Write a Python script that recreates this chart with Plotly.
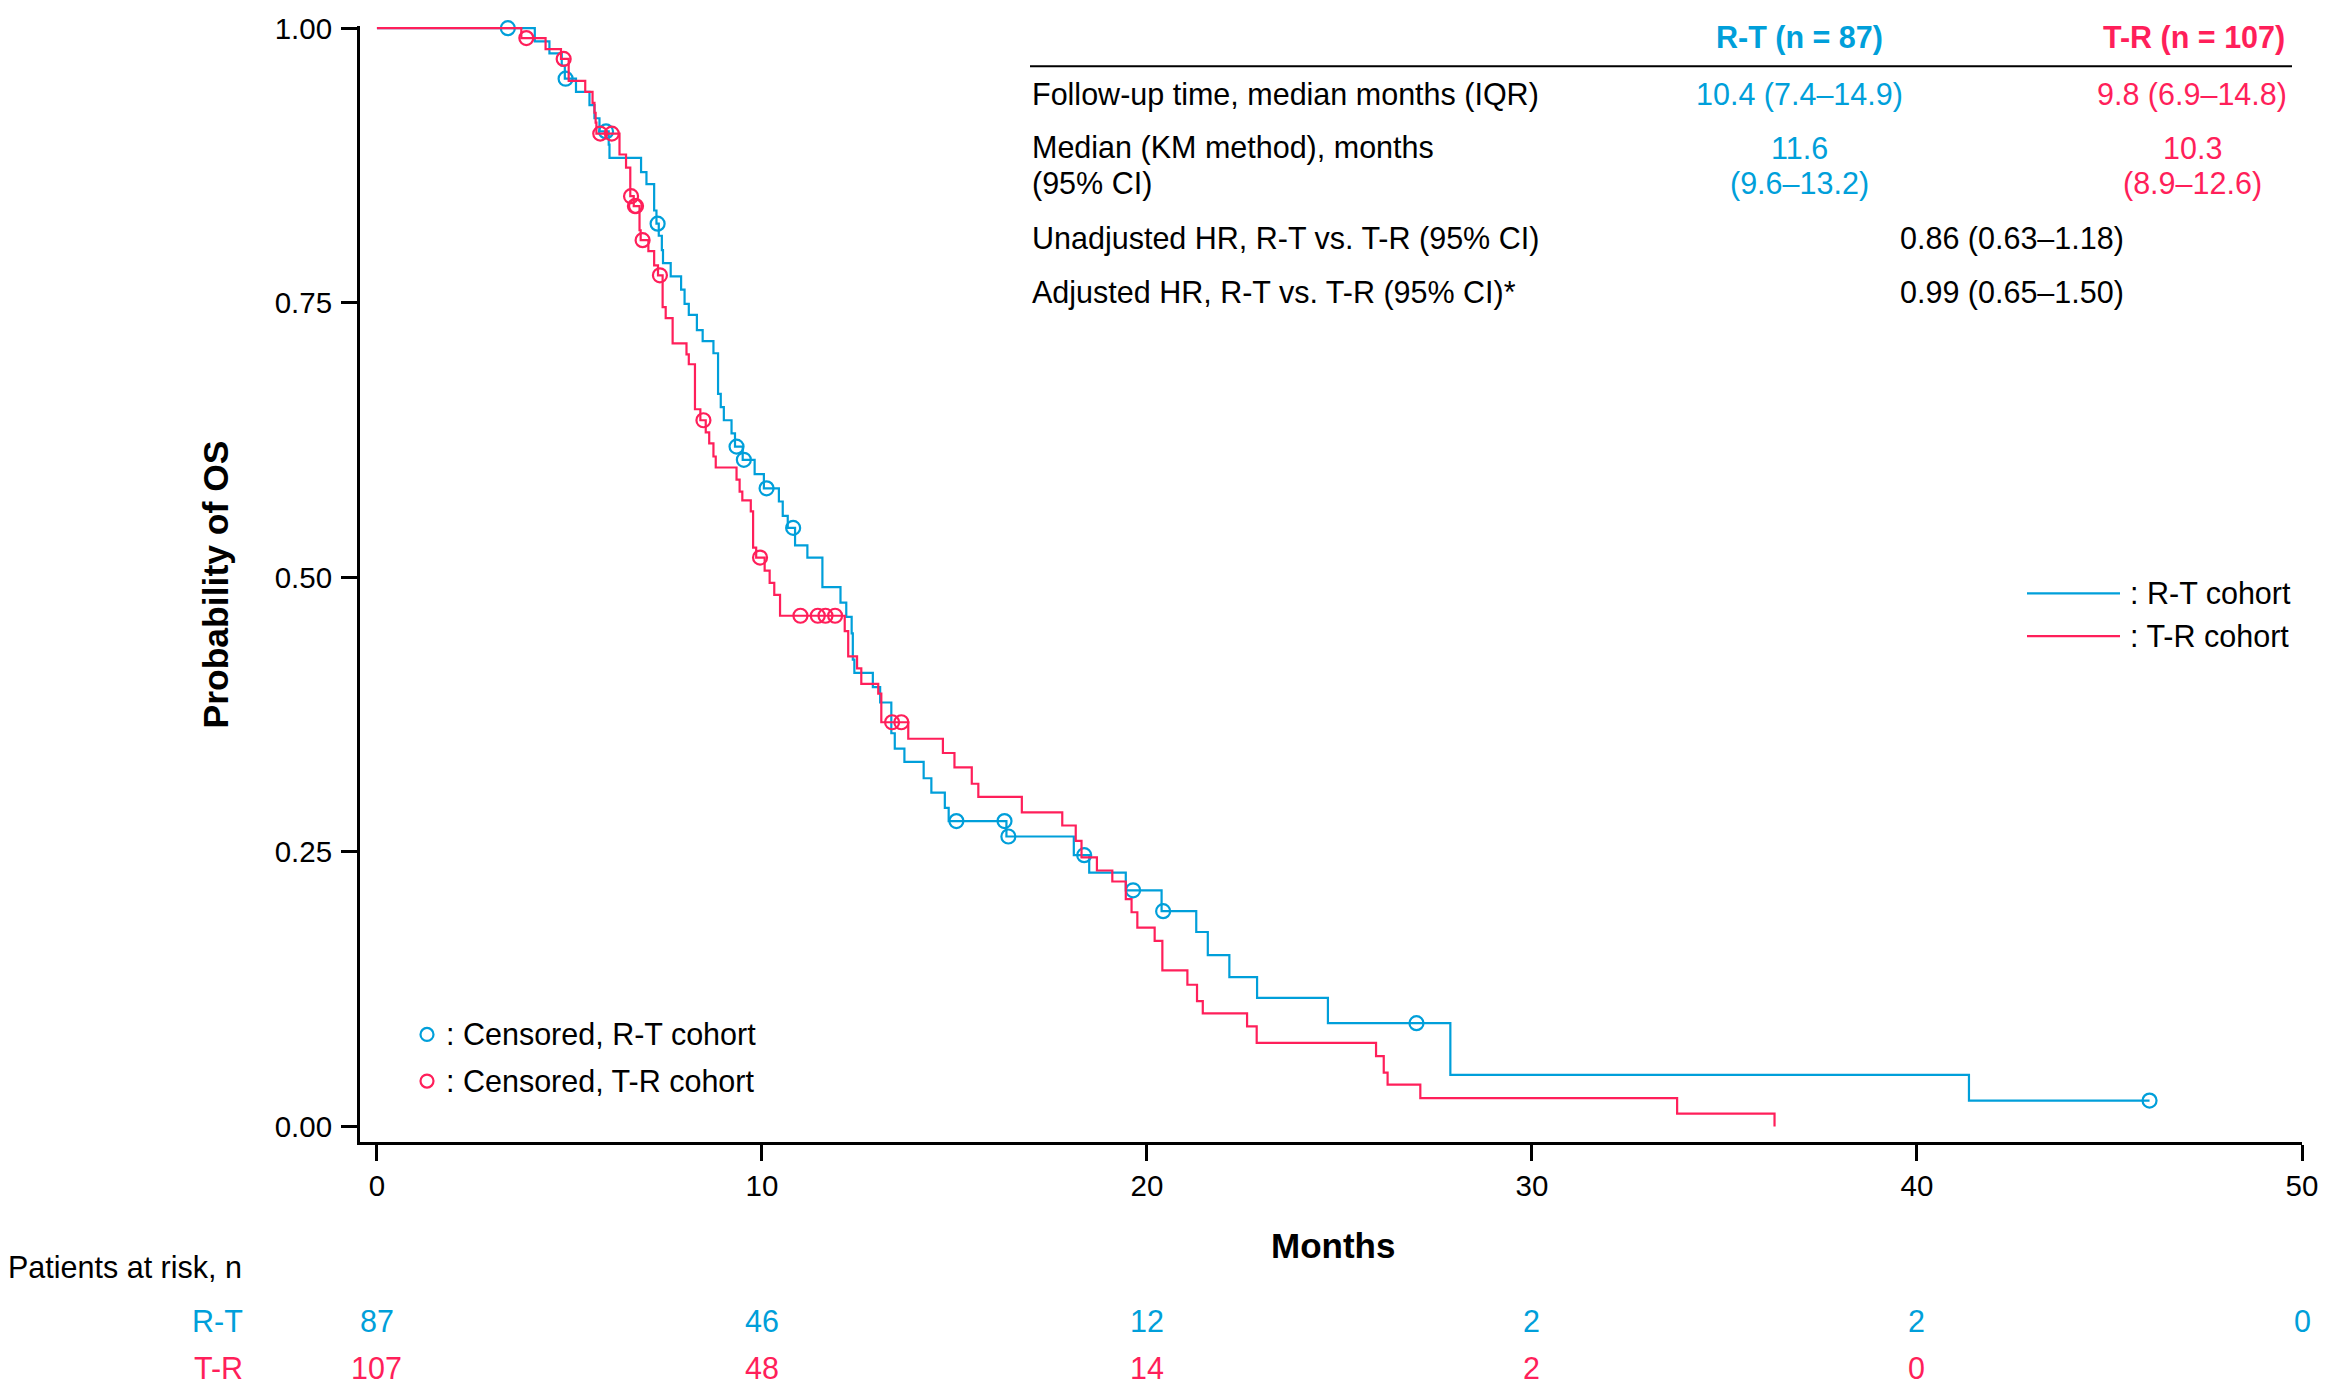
import numpy as np
import plotly.graph_objects as go

# ---------------- data ----------------
rt_event_time = [4.1, 4.48, 4.8, 4.88, 5.17, 5.52, 5.65, 5.78, 6.02, 6.04, 6.86, 7.0, 7.2, 7.26,
                 7.32, 7.4, 7.43, 7.63, 7.9, 7.99, 8.1, 8.31, 8.46, 8.74, 8.86, 8.93, 9.01, 9.21,
                 9.3, 9.5, 9.81, 10.05, 10.44, 10.54, 10.67, 10.86, 11.18, 11.57, 12.04, 12.19,
                 12.33, 12.36, 12.4, 12.88, 13.07, 13.36, 13.45, 13.7, 14.2, 14.4, 14.75, 14.85,
                 16.35, 18.1, 18.5, 19.45, 20.38, 21.28, 21.58, 22.14, 22.86, 24.7, 27.88, 41.35]
rt_event_surv = [0.988, 0.977, 0.966, 0.954, 0.942, 0.930, 0.918, 0.906, 0.894, 0.882, 0.869,
                 0.858, 0.834, 0.822, 0.811, 0.798, 0.786, 0.774, 0.762, 0.749, 0.739, 0.725,
                 0.715, 0.704, 0.667, 0.655, 0.643, 0.631, 0.619, 0.607, 0.594, 0.581, 0.569,
                 0.556, 0.545, 0.529, 0.518, 0.491, 0.477, 0.464, 0.449, 0.425, 0.413, 0.400,
                 0.386, 0.358, 0.344, 0.332, 0.317, 0.304, 0.290, 0.278, 0.264, 0.247, 0.231,
                 0.215, 0.196, 0.177, 0.156, 0.136, 0.117, 0.094, 0.047, 0.0235]
rt_censor_time = [3.4, 4.9, 5.95, 7.29, 9.34, 9.53, 10.12, 10.81, 15.05, 16.3, 16.4, 18.37,
                  19.64, 20.42, 27.0, 46.04]

tr_event_time = [3.75, 4.38, 4.78, 4.98, 5.41, 5.6, 5.65, 5.68, 5.7, 6.3, 6.47, 6.58, 6.67,
                 6.82, 6.85, 7.05, 7.2, 7.3, 7.42, 7.5, 7.68, 8.04, 8.1, 8.26, 8.4, 8.54, 8.63,
                 8.74, 8.8, 9.34, 9.42, 9.49, 9.71, 9.77, 9.85, 10.07, 10.2, 10.32, 10.47, 12.15,
                 12.24, 12.47, 12.58, 13.02, 13.1, 13.8, 14.7, 15.0, 15.45, 15.62, 16.75, 17.8,
                 18.15, 18.3, 18.7, 19.1, 19.45, 19.6, 19.75, 20.2, 20.4, 21.05, 21.3, 21.45,
                 22.6, 22.85, 25.95, 26.15, 26.25, 27.1, 33.77, 36.3]
tr_event_surv = [0.991, 0.981, 0.972, 0.952, 0.942, 0.932, 0.923, 0.914, 0.904, 0.885, 0.873,
                 0.847, 0.838, 0.816, 0.807, 0.797, 0.784, 0.775, 0.746, 0.736, 0.713, 0.703,
                 0.694, 0.653, 0.643, 0.632, 0.622, 0.610, 0.600, 0.589, 0.578, 0.570, 0.560,
                 0.527, 0.518, 0.506, 0.495, 0.484, 0.465, 0.451, 0.428, 0.417, 0.403, 0.394,
                 0.368, 0.353, 0.340, 0.327, 0.312, 0.300, 0.286, 0.274, 0.260, 0.245, 0.233,
                 0.223, 0.207, 0.195, 0.181, 0.169, 0.142, 0.129, 0.114, 0.103, 0.091, 0.076,
                 0.064, 0.049, 0.038, 0.0257, 0.0116, 0.0]
tr_censor_time = [3.88, 4.85, 5.8, 6.1, 6.6, 6.7, 6.73, 6.9, 7.35, 8.48, 9.95, 11.0, 11.45,
                  11.65, 11.9, 13.38, 13.62]

risk_times = [0, 10, 20, 30, 40, 50]
risk_rt = [87, 46, 12, 2, 2, 0]
risk_tr = [107, 48, 14, 2, 0]

x_ticks = [0, 10, 20, 30, 40, 50]
y_ticks = [0.0, 0.25, 0.5, 0.75, 1.0]

BLUE = "#009FDA"
RED = "#FF1F5A"
FONT = "Liberation Sans, Arial, sans-serif"

W, H = 2332, 1394
ML, MR, MT, MB = 360, 30, 16.5, 251.5
PW, PH = W - ML - MR, H - MT - MB


def px(X):
    return (X - ML) / PW


def py(Y):
    return (H - MB - Y) / PH


def step_xy(times, survs, end=None):
    x = [0.0] + list(times)
    y = [1.0] + list(survs)
    if end is not None and end > x[-1]:
        x.append(end)
        y.append(y[-1])
    return x, y


def surv_at(times, survs, t):
    idx = np.searchsorted(np.array(times), t, side="right")
    return 1.0 if idx == 0 else survs[idx - 1]


fig = go.Figure()

for times, survs, cens, col in [
    (rt_event_time, rt_event_surv, rt_censor_time, BLUE),
    (tr_event_time, tr_event_surv, tr_censor_time, RED),
]:
    xs, ys = step_xy(times, survs, end=max(cens))
    fig.add_trace(go.Scatter(x=xs, y=ys, mode="lines", line=dict(color=col, width=2.2, shape="hv"),
                             showlegend=False, hoverinfo="skip"))
    cy = [surv_at(times, survs, t) for t in cens]
    fig.add_trace(go.Scatter(x=cens, y=cy, mode="markers", cliponaxis=False,
                             marker=dict(symbol="circle-open", size=14, color=col,
                                         line=dict(width=2.2, color=col)),
                             showlegend=False, hoverinfo="skip"))

ann = []
shapes = []
FS = 30.5


def text(X, Y, s, color="black", xanchor="left", size=FS, bold=False, xref="paper"):
    ann.append(dict(x=px(X) if xref == "paper" else X, y=py(Y), xref=xref, yref="paper",
                    text=f"<b>{s}</b>" if bold else s, showarrow=False, xanchor=xanchor,
                    yanchor="middle", font=dict(family=FONT, size=size, color=color)))


# table at top right
LC, BC, RC, HC = 1030, 1799, 2192, 2012
text(BC, 28.5, "R-T (n = 87)", BLUE, "center", bold=True)
text(RC + 2, 28.5, "T-R (n = 107)", RED, "center", bold=True)
shapes.append(dict(type="line", xref="paper", yref="paper", x0=px(LC), x1=px(2292),
                   y0=py(57), y1=py(57), line=dict(color="black", width=2)))
text(LC, 85.5, "Follow-up time, median months (IQR)")
text(BC, 85.5, "10.4 (7.4–14.9)", BLUE, "center")
text(RC, 85.5, "9.8 (6.9–14.8)", RED, "center")
text(LC, 139.5, "Median (KM method), months")
text(LC, 175.5, "(95% CI)")
text(BC, 139.5, "11.6", BLUE, "center")
text(BC, 175.5, "(9.6–13.2)", BLUE, "center")
text(RC, 139.5, "10.3", RED, "center")
text(RC, 175.5, "(8.9–12.6)", RED, "center")
text(LC, 231, "Unadjusted HR, R-T vs. T-R (95% CI)")
text(HC, 231, "0.86 (0.63–1.18)", "black", "center")
text(LC, 285, "Adjusted HR, R-T vs. T-R (95% CI)*")
text(HC, 285, "0.99 (0.65–1.50)", "black", "center")

# line legend
for Yl, col, lab in [(589, BLUE, ": R-T cohort"), (632, RED, ": T-R cohort")]:
    shapes.append(dict(type="line", xref="paper", yref="paper", x0=px(2027), x1=px(2120),
                       y0=py(Yl), y1=py(Yl), line=dict(color=col, width=2.2)))
    text(2128, Yl, lab)

# censor legend
for Yl, col, lab in [(1034, BLUE, ": Censored, R-T cohort"), (1081, RED, ": Censored, T-R cohort")]:
    shapes.append(dict(type="circle", xref="paper", yref="paper", xsizemode="pixel", ysizemode="pixel",
                       xanchor=px(427), yanchor=py(Yl), x0=-6.5, x1=6.5, y0=-6.5, y1=6.5,
                       line=dict(color=col, width=2.2)))
    text(444, Yl, lab)

# axis titles
text(1333, 1246.5, "Months", "black", "center", size=35, bold=True)
ann.append(dict(x=px(216), y=py(580), xref="paper", yref="paper", text="<b>Probability of OS</b>",
                textangle=-90, showarrow=False, xanchor="center", yanchor="middle",
                font=dict(family=FONT, size=35.5, color="black")))

# risk table
text(6, 1269, "Patients at risk, n")
text(244.5, 1323, "R-T", BLUE, "right")
text(244.5, 1371, "T-R", RED, "right")
for t, n in zip(risk_times, risk_rt):
    text(t, 1323, str(n), BLUE, "center", xref="x")
for t, n in zip(risk_times, risk_tr):
    text(t, 1371, str(n), RED, "center", xref="x")

axis_common = dict(showgrid=False, zeroline=False, showline=True, linecolor="black", linewidth=3,
                   ticks="outside", ticklen=16, tickwidth=3, tickcolor="black",
                   tickfont=dict(family=FONT, size=29.5, color="black"))

fig.update_layout(
    width=W, height=H, autosize=False,
    margin=dict(l=ML, r=MR, t=MT, b=MB),
    paper_bgcolor="white", plot_bgcolor="white",
    xaxis=dict(range=[-0.44, 50], tickvals=x_ticks, **axis_common),
    yaxis=dict(range=[-0.0142, 1.002], tickvals=y_ticks, tickformat=".2f",
               ticklabelstandoff=3, **axis_common),
    annotations=ann, shapes=shapes, showlegend=False,
)

fig.write_html("out.html", config={"displayModeBar": False},
               post_script="document.body.style.margin='0';document.body.style.overflow='hidden';")
